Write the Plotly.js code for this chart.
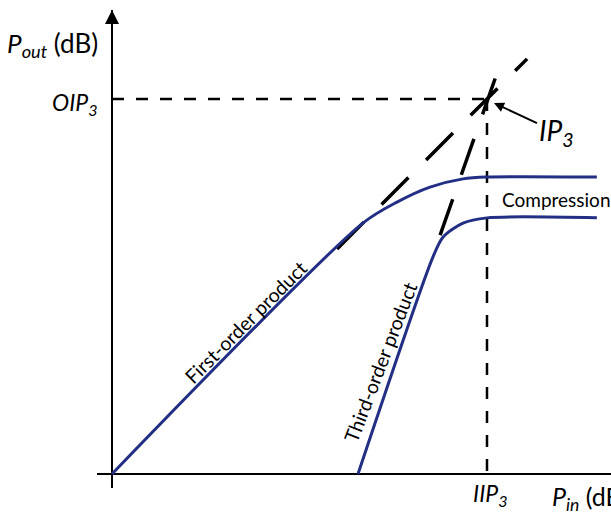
<!DOCTYPE html>
<html>
<head>
<meta charset="utf-8">
<script src="https://cdn.plot.ly/plotly-3.0.1.min.js"></script>
<style>html,body{margin:0;padding:0;background:#fff;}#chart{width:611px;height:513px;}</style>
</head>
<body>
<div id="chart"></div>
<script>
// Intercept points (arbitrary dB units)
const IIP3 = 10;
const OIP3 = 10;

// First-order product (fundamental), with compression
const firstOrderX = [0, 6.69, 7.6, 8.48, 9.36, 10, 12.93];
const firstOrderY = [0, 6.69, 7.25, 7.65, 7.87, 7.92, 7.92];

// Third-order product, with compression
const thirdOrderX = [6.56, 8.56, 8.83, 9.36, 10, 12.93];
const thirdOrderY = [0, 5.79, 6.32, 6.69, 6.83, 6.83];

// Linear extrapolations (dashed)
const firstExtX = [6.0, 11.07];
const firstExtY = [6.0, 11.07];
const thirdExtX = [8.75, 10.24];
const thirdExtY = [6.37, 10.61];

// Intercept reference lines
const oipLineX = [0, IIP3];
const oipLineY = [OIP3, OIP3];
const iipLineX = [IIP3, IIP3];
const iipLineY = [OIP3, 0];

const navy = '#232f84';
const FONT = 'Lato, "Open Sans", sans-serif';

const traces = [
  {x: oipLineX, y: oipLineY, mode: 'lines', line: {color: '#000', width: 2.5, dash: '12px,12px'}},
  {x: iipLineX, y: iipLineY, mode: 'lines', line: {color: '#000', width: 2.5, dash: '12px,12px'}},
  {x: firstExtX, y: firstExtY, mode: 'lines', line: {color: '#000', width: 3.5, dash: '38px,25px'}},
  {x: thirdExtX, y: thirdExtY, mode: 'lines', line: {color: '#000', width: 3.5, dash: '38px,26px'}},
  {x: firstOrderX, y: firstOrderY, mode: 'lines', line: {color: navy, width: 3, shape: 'spline', smoothing: 0.8}},
  {x: thirdOrderX, y: thirdOrderY, mode: 'lines', line: {color: navy, width: 3, shape: 'spline', smoothing: 0.8}}
];

const layout = {
  width: 611, height: 513,
  margin: {l: 97, r: 0, t: 10, b: 25, pad: 0},
  paper_bgcolor: '#fff', plot_bgcolor: '#fff',
  showlegend: false, hovermode: false,
  font: {family: FONT, color: '#000'},
  xaxis: {range: [-0.4, 13.3067], showgrid: false, zeroline: true, zerolinecolor: '#000', zerolinewidth: 2,
          showticklabels: false, ticks: '', showline: false, fixedrange: true},
  yaxis: {range: [-0.3733, 12.3733], showgrid: false, zeroline: true, zerolinecolor: '#000', zerolinewidth: 2,
          showticklabels: false, ticks: '', showline: false, fixedrange: true},
  annotations: [
    // y-axis arrowhead
    {x: 0, y: 12.3733, ax: 0, ay: 11.6, axref: 'x', ayref: 'y', xref: 'x', yref: 'y', text: '',
     showarrow: true, arrowhead: 2, arrowsize: 1.4, arrowwidth: 2, arrowcolor: '#000'},
    {xref: 'paper', yref: 'paper', x: (100 - 97) / 514, y: (488 - 44) / 478, xanchor: 'right', yanchor: 'middle',
     text: '<i>P<sub>out</sub></i> (dB)', showarrow: false, font: {size: 26}},
    {xref: 'paper', yref: 'paper', x: (100 - 97) / 514, y: (488 - 103) / 478, xanchor: 'right', yanchor: 'middle',
     text: '<i>OIP<sub>3</sub></i>', showarrow: false, font: {size: 23}},
    {xref: 'paper', yref: 'paper', x: (490 - 97) / 514, y: (488 - 494) / 478, xanchor: 'center', yanchor: 'middle',
     text: '<i>IIP<sub>3</sub></i>', showarrow: false, font: {size: 23}},
    {xref: 'paper', yref: 'paper', x: (550 - 97) / 514, y: (488 - 498) / 478, xanchor: 'left', yanchor: 'middle',
     text: '<i>P<sub>in</sub></i> (dB)', showarrow: false, font: {size: 25}},
    {x: 10.187, y: 9.893, xref: 'x', yref: 'y', ax: 62, ay: 29, text: '<i>IP<sub>3</sub></i>',
     showarrow: true, arrowhead: 2, arrowsize: 1, arrowwidth: 2, arrowcolor: '#000', font: {size: 28}},
    {x: 10.35, y: 7.333, xref: 'x', yref: 'y', xanchor: 'left', yanchor: 'middle',
     text: 'Compression', showarrow: false, font: {size: 19}},
    {x: 3.547, y: 4.053, xref: 'x', yref: 'y', xanchor: 'center', yanchor: 'middle', textangle: -45,
     text: 'First-order product', showarrow: false, font: {size: 19.5}},
    {x: 7.173, y: 2.987, xref: 'x', yref: 'y', xanchor: 'center', yanchor: 'middle', textangle: -69,
     text: 'Third-order product', showarrow: false, font: {size: 19.5}}
  ]
};

Plotly.newPlot('chart', traces, layout, {staticPlot: true, displayModeBar: false});
</script>
</body>
</html>
